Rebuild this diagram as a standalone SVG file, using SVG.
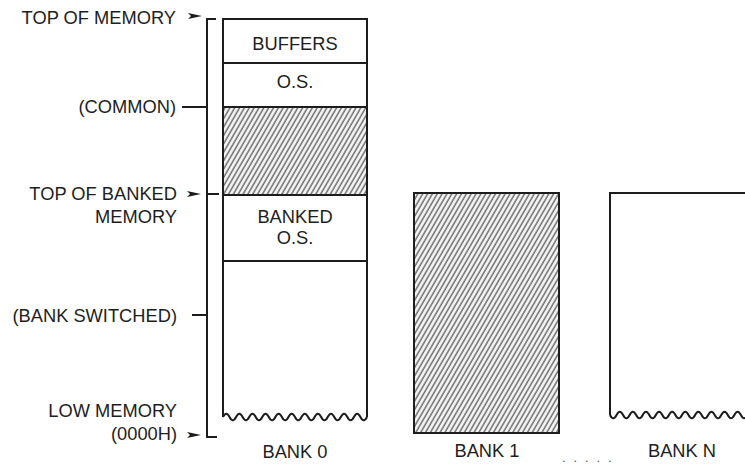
<svg xmlns="http://www.w3.org/2000/svg" width="745" height="476" viewBox="0 0 745 476">
<style>
text{font-family:"Liberation Sans",Arial,sans-serif;font-size:18.3px;fill:#1e1e1e}
.r{text-anchor:end}
.c{text-anchor:middle}
.ln{stroke:#1c1c1c;stroke-width:2;fill:none}
.br{stroke:#1c1c1c;stroke-width:2;fill:none}
.hatch{fill:url(#h)}
.arr{fill:#1c1c1c}
</style>
<defs>
<pattern id="h" patternUnits="userSpaceOnUse" width="4.2" height="10" patternTransform="rotate(30)">
<rect width="4.2" height="10" fill="#f4f4f4"/>
<line x1="1" y1="0" x2="1" y2="10" stroke="#707070" stroke-width="1.5"/>
</pattern>
</defs>
<g id="bracket">
<path class="br" d="M216,19 H207 V437 H217"/>
<path class="br" d="M207,194 H219"/>
<path class="br" d="M182,107 H207"/>
<path class="br" d="M192,315 H207"/>
<polygon class="arr" points="188,13 202,16 188,19 191,16"/>
<polygon class="arr" points="187,191 201,194 187,197 190,194"/>
<polygon class="arr" points="187,432 201,435 187,438 190,435"/>
</g>
<g id="labels">
<text class="r" x="176" y="24">TOP OF MEMORY</text>
<text class="r" x="176" y="113">(COMMON)</text>
<text class="r" x="177" y="200">TOP OF BANKED</text>
<text class="r" x="177" y="223">MEMORY</text>
<text class="r" x="177" y="322">(BANK SWITCHED)</text>
<text class="r" x="177" y="417">LOW MEMORY</text>
<text class="r" x="177" y="440">(0000H)</text>
</g>
<g id="bank0">
<rect class="hatch" x="223" y="107" width="144" height="88"/>
<path class="ln" d="M223,417 V19 H367 V417"/>
<path class="ln" d="M223,63 H367 M223,107 H367 M223,195 H367 M223,261 H367"/>
<path class="ln" d="M223,417 q3.27,-6.5 6.545,0 t6.545,0 t6.545,0 t6.545,0 t6.545,0 t6.545,0 t6.545,0 t6.545,0 t6.545,0 t6.545,0 t6.545,0 t6.545,0 t6.545,0 t6.545,0 t6.545,0 t6.545,0 t6.545,0 t6.545,0 t6.545,0 t6.545,0 t6.545,0 t6.545,0"/>
<text class="c" x="295" y="50">BUFFERS</text>
<text class="c" x="295" y="88">O.S.</text>
<text class="c" x="295" y="223">BANKED</text>
<text class="c" x="295" y="244">O.S.</text>
<text class="c" x="295" y="458">BANK 0</text>
</g>
<g id="bank1">
<rect class="hatch" x="414" y="193" width="145" height="240"/>
<rect class="ln" x="414" y="193" width="145" height="240"/>
<text class="c" x="487" y="457">BANK 1</text>
</g>
<g id="bankN">
<path class="ln" d="M747,193 H610 V415"/>
<path class="ln" d="M610,415 q3.27,6.5 6.545,0 t6.545,0 t6.545,0 t6.545,0 t6.545,0 t6.545,0 t6.545,0 t6.545,0 t6.545,0 t6.545,0 t6.545,0 t6.545,0 t6.545,0 t6.545,0 t6.545,0 t6.545,0 t6.545,0 t6.545,0 t6.545,0 t6.545,0 t6.545,0 t6.545,0"/>
<text class="c" x="682" y="457">BANK N</text>
</g>
<text x="562" y="462" style="font-size:13px;letter-spacing:7.9px;fill:#555">.....</text>
</svg>
